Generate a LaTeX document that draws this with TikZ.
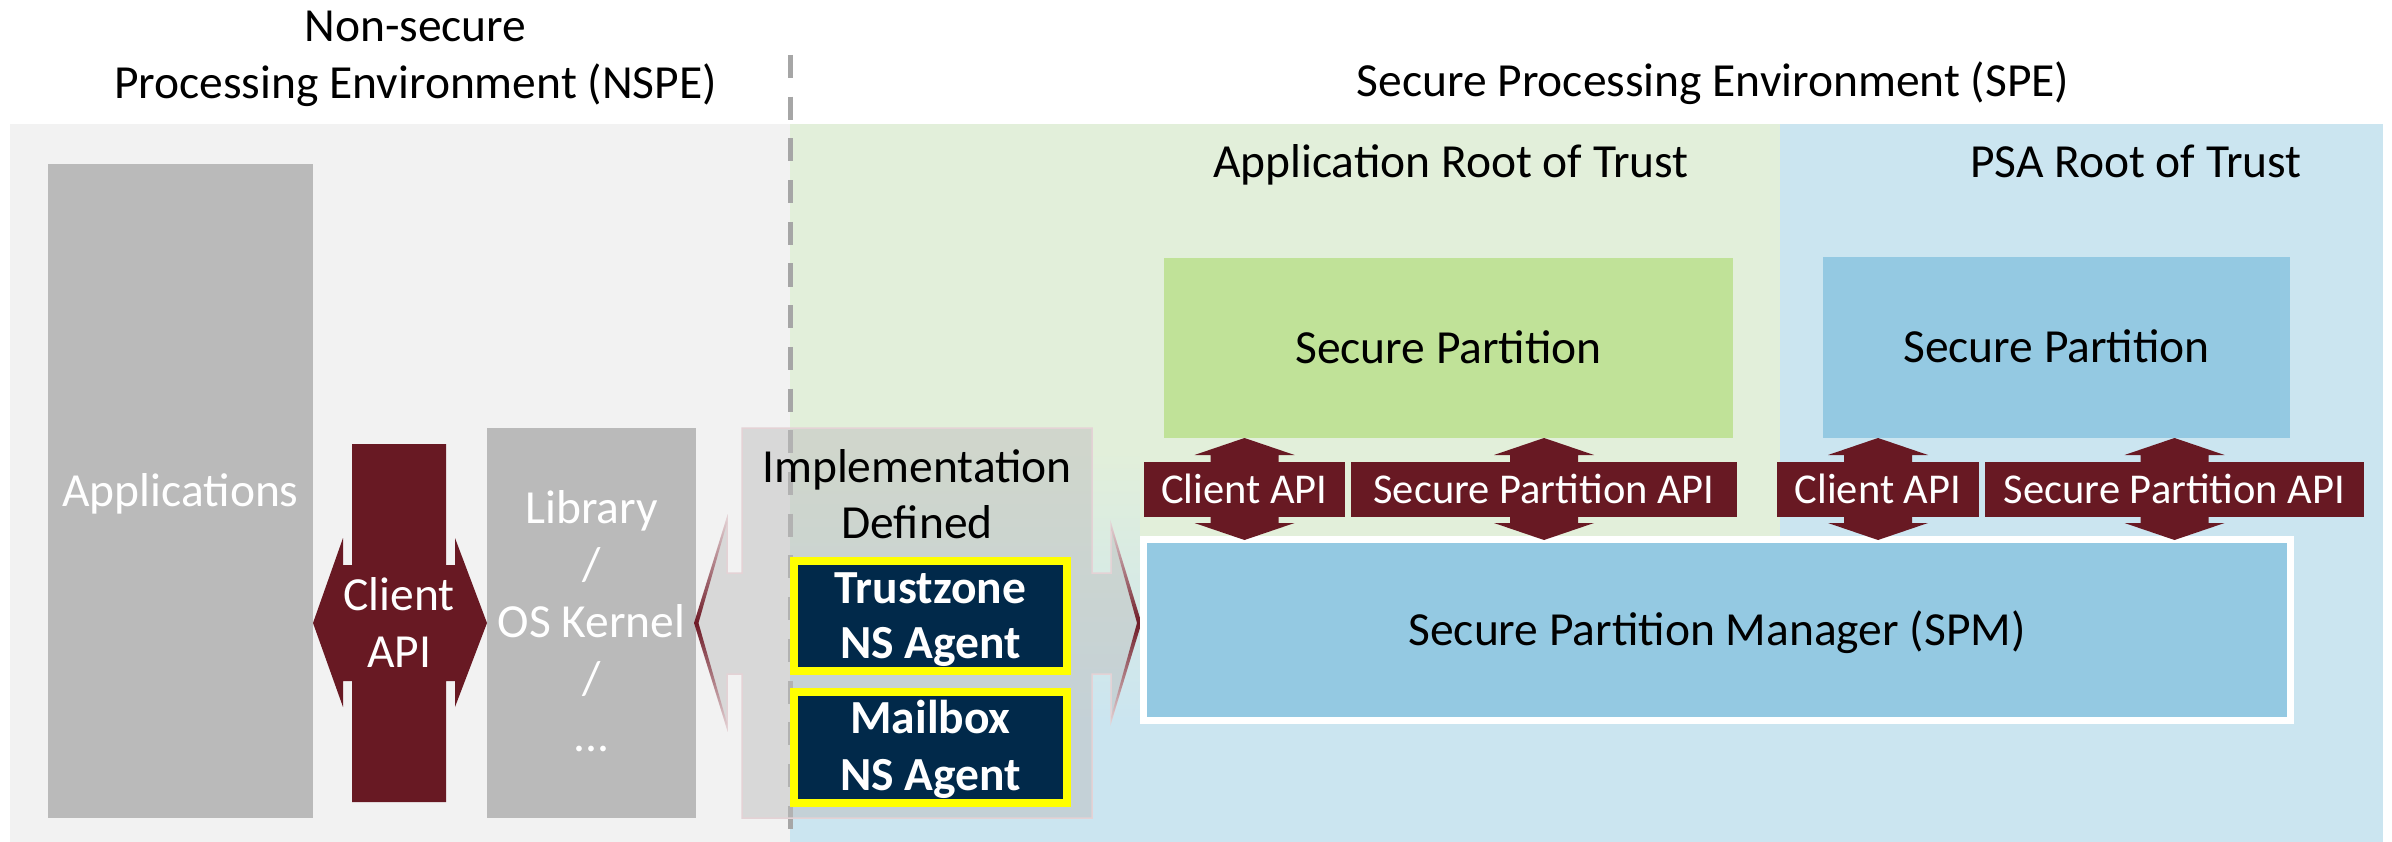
\documentclass[tikz,border=0pt]{standalone}
\usepackage{fontspec}
\setmainfont{Carlito}
\usetikzlibrary{calc}

\definecolor{nsbg}{HTML}{F2F2F2}
\definecolor{spebg}{HTML}{CBE5F0}
\definecolor{greenbg}{HTML}{E2EFDA}
\definecolor{greenbox}{HTML}{C0E298}
\definecolor{bluebox}{HTML}{94C9E2}
\definecolor{greyblock}{HTML}{BABABA}
\definecolor{apired}{HTML}{681923}
\definecolor{navy}{HTML}{01294A}
\definecolor{agentedge}{HTML}{FFFF00}
\definecolor{dashgray}{HTML}{A6A6A6}
\definecolor{edgepale}{HTML}{E4D2D5}
\definecolor{edgedark}{HTML}{6E1A26}
\definecolor{implgray}{HTML}{BFBFBF}

\newcommand\bigtxt{\fontsize{47.5}{57}\selectfont}
\newcommand\apitxt{\fontsize{42.5}{51}\selectfont}

\tikzset{
  uphead/.pic={\fill[apired] (-34,1) -- (-34,-7) -- (-50,-7) -- (0,-24) -- (50,-7) -- (34,-7) -- (34,1) -- cycle;},
  downhead/.pic={\fill[apired] (-34,-1) -- (-34,6) -- (-50,6) -- (0,23) -- (50,6) -- (34,6) -- (34,-1) -- cycle;}
}

\begin{document}
\begin{tikzpicture}[x=1pt, y=-1pt,
  every node/.style={inner sep=0pt, outer sep=0pt},
  nsblock/.style={rectangle, fill=greyblock, text=white, font=\bigtxt, text height=30pt, text depth=0pt},
  partblock/.style={rectangle, font=\bigtxt, text height=30pt, text depth=0pt},
  apiblock/.style={rectangle, fill=apired, text=white, font=\apitxt, minimum height=55pt, text height=27pt, text depth=0pt},
  agentblock/.style={rectangle, fill=navy, draw=agentedge, line width=8pt, minimum width=273pt},
  txt/.style={anchor=base, font=\bigtxt},
  whitetxt/.style={txt, text=white},
  agenttxt/.style={txt, text=white, font=\bigtxt\bfseries},
]
\useasboundingbox (0,0) rectangle (2392,842);
\fill[white] (0,0) rectangle (2392,842);

% environment backgrounds
\fill[nsbg] (10,124) rectangle (790,842);
\fill[spebg] (790,124) rectangle (2383,842);
\fill[greenbg] (790,124) rectangle (1140,452);
\shade[top color=greenbg, bottom color=spebg] (790,450) rectangle (1140,722);
\fill[greenbg] (1140,124) rectangle (1780,600);

% environment titles
\node[txt] (nstitle1) at (415.5,42) {Non-secure};
\node[txt] (nstitle2) at (415.5,99) {Processing Environment (NSPE)};
\node[txt] (stitle) at (1713,97) {Secure Processing Environment (SPE)};
\node[txt] (approt) at (1451,178) {Application Root of Trust};
\node[txt] (psarot) at (2136,178) {PSA Root of Trust};

% boundary between the two worlds
\coordinate (divtop) at (790.5,55);
\coordinate (divbot) at (790.5,834);
\draw[dashgray, line width=5pt, dash pattern=on 23pt off 18.7pt] (divtop) -- (divbot);

% non-secure software blocks
\node[nsblock, minimum width=265pt, minimum height=654pt] (apps) at (180.5,491) {Applications};
\node[rectangle, fill=greyblock, minimum width=209pt, minimum height=390pt] (lib) at (591.5,623) {};
\node[whitetxt] (lib1) at (591.5,523) {Library};
\node[whitetxt] (lib2) at (591.5,580) {/};
\node[whitetxt] (lib3) at (591.5,637) {OS Kernel};
\node[whitetxt] (lib4) at (591.5,694) {/};
\node[whitetxt] (lib5) at (591.5,751) {...};

% client API between applications and library
\coordinate (capi) at (399,623);
\fill[apired] (352,444) -- (446,444) -- (446,565) -- (455,565) -- (455,538) -- (lib.west |- capi)
  -- (455,707) -- (455,681) -- (446,681) -- (446,802) -- (352,802) -- (352,681) -- (343,681)
  -- (343,707) -- (apps.east |- capi) -- (343,538) -- (343,565) -- (352,565) -- cycle;
\node[whitetxt] (capi1) at (399,610) {Client};
\node[whitetxt] (capi2) at (399,667) {API};

% implementation defined bridge
\coordinate (impl) at (917,623);
\path[fill=implgray, fill opacity=0.5, draw=edgepale, line width=1.5pt]
  (742,428) -- (1092,428) -- (1092,573) -- (1111,573) -- (1111,525) -- (1140,623) -- (1111,721)
  -- (1111,674) -- (1092,674) -- (1092,818) -- (742,818) -- (742,674) -- (727,674) -- (727,727)
  -- (695,623) -- (727,519) -- (727,573) -- (742,573) -- cycle;
\shade[top color=edgepale, bottom color=edgepale, middle color=edgedark]
  (727,517) -- (694,623) -- (727,729) -- (727,723) -- (698.5,623) -- (727,523) -- cycle;
\shade[top color=edgepale, bottom color=edgepale, middle color=edgedark]
  (1111,523) -- (1141.5,623) -- (1111,723) -- (1111,717) -- (1137,623) -- (1111,529) -- cycle;
\node[txt] (impl1) at (917,482) {Implementation};
\node[txt] (impl2) at (917,538) {Defined};

% NS agents
\node[agentblock, minimum height=110pt] (tz) at (930.5,616) {};
\node[agenttxt] (tz1) at (930.5,603) {Trustzone};
\node[agenttxt] (tz2) at (930.5,658) {NS Agent};
\node[agentblock, minimum height=111pt] (mb) at (930.5,747.5) {};
\node[agenttxt] (mb1) at (930.5,733) {Mailbox};
\node[agenttxt] (mb2) at (930.5,790) {NS Agent};

% secure partitions
\node[partblock, fill=greenbox, minimum width=569pt, minimum height=180pt] (spapp) at (1448.5,348) {Secure Partition};
\node[partblock, fill=bluebox, minimum width=467pt, minimum height=181pt] (sppsa) at (2056.5,347.5) {Secure Partition};

% partition manager
\node[partblock, fill=bluebox, draw=white, line width=7pt, minimum width=1147pt, minimum height=181pt] (spm) at (1717,630) {Secure Partition Manager (SPM)};

% partition interfaces
\node[apiblock, minimum width=201pt] (caApp) at (1244.5,489.5) {Client API};
\node[apiblock, minimum width=386pt] (spiApp) at (1544,489.5) {Secure Partition API};
\node[apiblock, minimum width=202pt] (caPsa) at (1878,489.5) {Client API};
\node[apiblock, minimum width=379pt] (spiPsa) at (2174.5,489.5) {Secure Partition API};
\foreach \b in {caApp, spiApp, caPsa, spiPsa} {
  \pic at (\b.north) {uphead};
  \pic at (\b.south) {downhead};
}
\end{tikzpicture}
\end{document}
